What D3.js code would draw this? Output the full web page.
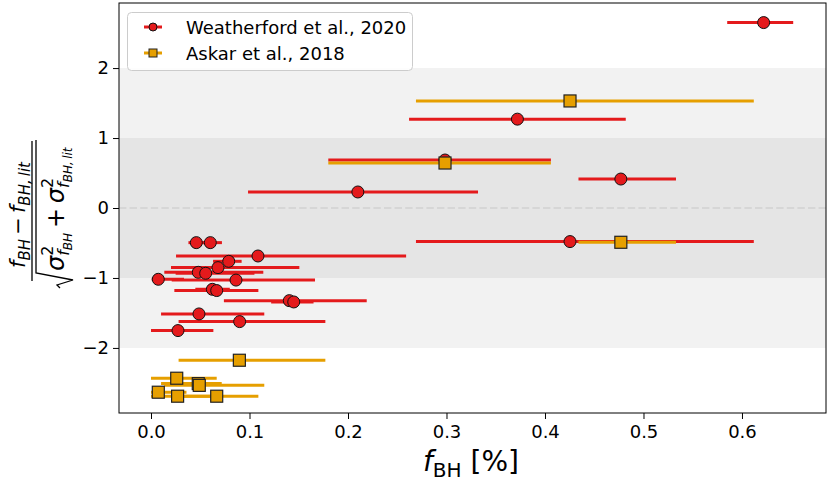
<!DOCTYPE html>
<html>
<head>
<meta charset="utf-8">
<script src="https://cdn.jsdelivr.net/npm/d3@7"></script>
<style>
  body { margin: 0; background: #fff; }
  text { font-family: "DejaVu Sans", sans-serif; white-space: pre; }
</style>
</head>
<body>
<svg id="chart" width="830" height="483"></svg>
<script>
// Weatherford et al., 2020 (red circles)
var wX  = [0.622, 0.372, 0.2985, 0.477, 0.210, 0.4254, 0.1086, 0.046, 0.0602, 0.0789, 0.068, 0.048, 0.0555, 0.0074, 0.0863, 0.0623, 0.0667, 0.1404, 0.1449, 0.0487, 0.090, 0.0274];
var wY  = [2.65, 1.27, 0.686, 0.414, 0.229, -0.48, -0.686, -0.495, -0.495, -0.762, -0.852, -0.919, -0.933, -1.019, -1.03, -1.162, -1.18, -1.324, -1.343, -1.514, -1.624, -1.752];
var wLo = [0.585, 0.262, 0.18, 0.434, 0.0985, 0.269, 0.0254, 0.038, 0.052, 0.063, 0.0203, 0.0135, 0.025, 0.0007, 0.021, 0.045, 0.0237, 0.074, 0.122, 0.0102, 0.028, 0.0];
var wHi = [0.652, 0.482, 0.406, 0.533, 0.332, 0.612, 0.259, 0.058, 0.072, 0.092, 0.1506, 0.114, 0.105, 0.0335, 0.1665, 0.08, 0.109, 0.219, 0.165, 0.115, 0.177, 0.0633];

// Askar et al., 2018 (orange squares)
var aX  = [0.4254, 0.2985, 0.477, 0.0897, 0.0261, 0.048, 0.049, 0.0074, 0.027, 0.0667];
var aY  = [1.53, 0.643, -0.49, -2.176, -2.433, -2.51, -2.535, -2.633, -2.69, -2.69];
var aLo = [0.269, 0.18, 0.434, 0.028, 0.0, 0.0102, 0.0135, 0.0, 0.0, 0.0237];
var aHi = [0.612, 0.406, 0.533, 0.177, 0.0667, 0.0718, 0.115, 0.036, 0.0633, 0.109];

var xTicks = [0, 0.1, 0.2, 0.3, 0.4, 0.5, 0.6];
var yTicks = [-2, -1, 0, 1, 2];
var legendLabels = ["Weatherford et al., 2020", "Askar et al., 2018"];

var red = "#e41a1c", orange = "#e69f00";

var svg = d3.select("#chart");
var pLeft = 119, pRight = 826, pTop = 3, pBottom = 413;

var x = d3.scaleLinear().domain([-0.0325, 0.6853]).range([pLeft, pRight]);
var y = d3.scaleLinear().domain([-2.93, 2.93]).range([pBottom, pTop]);

// shaded bands
svg.append("rect")
	.attr("x", pLeft).attr("width", pRight - pLeft)
	.attr("y", y(2)).attr("height", y(-2) - y(2))
	.attr("fill", "#f2f2f2");
svg.append("rect")
	.attr("x", pLeft).attr("width", pRight - pLeft)
	.attr("y", y(1)).attr("height", y(-1) - y(1))
	.attr("fill", "#e5e5e5");
svg.append("line")
	.attr("x1", pLeft).attr("x2", pRight)
	.attr("y1", y(0)).attr("y2", y(0))
	.attr("stroke", "#d6d6d6").attr("stroke-width", 2)
	.attr("stroke-dasharray", "7.4,3.2");

function makeRows(xs, ys, lo, hi) {
	return xs.map(function (d, i) { return { x: d, y: ys[i], lo: lo[i], hi: hi[i] }; });
}
var wRows = makeRows(wX, wY, wLo, wHi);
var aRows = makeRows(aX, aY, aLo, aHi);

// red series
svg.append("g").selectAll("line")
	.data(wRows).enter().append("line")
	.attr("x1", function (d) { return x(d.lo); })
	.attr("x2", function (d) { return x(d.hi); })
	.attr("y1", function (d) { return y(d.y); })
	.attr("y2", function (d) { return y(d.y); })
	.attr("stroke", red).attr("stroke-width", 3);
svg.append("g").selectAll("circle")
	.data(wRows).enter().append("circle")
	.attr("cx", function (d) { return x(d.x); })
	.attr("cy", function (d) { return y(d.y); })
	.attr("r", 6)
	.attr("fill", red).attr("stroke", "#111").attr("stroke-width", 1);

// orange series
svg.append("g").selectAll("line")
	.data(aRows).enter().append("line")
	.attr("x1", function (d) { return x(d.lo); })
	.attr("x2", function (d) { return x(d.hi); })
	.attr("y1", function (d) { return y(d.y); })
	.attr("y2", function (d) { return y(d.y); })
	.attr("stroke", orange).attr("stroke-width", 3);
svg.append("g").selectAll("rect")
	.data(aRows).enter().append("rect")
	.attr("x", function (d) { return x(d.x) - 6; })
	.attr("y", function (d) { return y(d.y) - 6; })
	.attr("width", 12).attr("height", 12)
	.attr("fill", orange).attr("stroke", "#222").attr("stroke-width", 1.2);

// axes
var xAxis = svg.append("g")
	.attr("transform", "translate(0," + pBottom + ")")
	.call(d3.axisBottom(x).tickValues(xTicks).tickFormat(d3.format(".1f")).tickSize(6).tickPadding(6).tickSizeOuter(0));
var yAxis = svg.append("g")
	.attr("transform", "translate(" + pLeft + ",0)")
	.call(d3.axisLeft(y).tickValues(yTicks).tickFormat(d3.format("d")).tickSize(6).tickPadding(4).tickSizeOuter(0));
[xAxis, yAxis].forEach(function (a) {
	a.select(".domain").remove();
	a.selectAll("text").attr("font-size", 18).attr("fill", "#000").attr("font-family", "DejaVu Sans");
	a.selectAll("line").attr("stroke", "#000");
});

svg.append("rect")
	.attr("x", pLeft).attr("y", pTop)
	.attr("width", pRight - pLeft).attr("height", pBottom - pTop)
	.attr("fill", "none").attr("stroke", "#000").attr("stroke-width", 1);

// x label
var xl = svg.append("text").attr("x", 471).attr("y", 471)
	.attr("text-anchor", "middle").attr("font-size", 28);
xl.append("tspan").attr("font-style", "italic").text("f");
xl.append("tspan").attr("font-size", 20).attr("dy", 6).text("BH");
xl.append("tspan").attr("dy", -6).text(" [%]");

// y label (fraction), drawn in rotated frame
function mathText(g, x0, y0, pieces) {
	var cx = x0, mark = x0, markEnd = x0;
	pieces.forEach(function (p) {
		if (p.mark) mark = cx;
		if (p.ret) { markEnd = cx; cx = mark; }
		var t = g.append("text").attr("x", cx).attr("y", y0 + (p.dy || 0))
			.attr("font-size", p.s).attr("font-style", p.i ? "italic" : "normal")
			.text(p.t);
		cx += t.node().getComputedTextLength();
		if (p.end) cx = Math.max(cx, markEnd);
	});
	return cx;
}

var yl = svg.append("g").attr("transform", "translate(32,208) rotate(-90)");
mathText(yl, -60, -7, [
	{ t: "f", s: 21, i: true },
	{ t: "BH", s: 15, i: true, dy: 5 },
	{ t: "\u2009\u2212\u2009", s: 21 },
	{ t: "f", s: 21, i: true },
	{ t: "BH,\u2009lit", s: 15, i: true, dy: 5 }
]);
yl.append("line").attr("x1", -73).attr("x2", 67).attr("y1", 0).attr("y2", 0)
	.attr("stroke", "#000").attr("stroke-width", 1.3);
yl.append("path").attr("d", "M-80,28 L-77,25 L-72,41 L-65,4 L68,4")
	.attr("fill", "none").attr("stroke", "#000").attr("stroke-width", 1.3);
mathText(yl, -63, 32, [
	{ t: "\u03c3", s: 24, i: true },
	{ t: "2", s: 16, dy: -11, mark: true },
	{ t: "f", s: 16, i: true, dy: 5, ret: true },
	{ t: "BH", s: 12, i: true, dy: 8, end: true },
	{ t: "\u2009+\u2009", s: 24 },
	{ t: "\u03c3", s: 24, i: true },
	{ t: "2", s: 16, dy: -11, mark: true },
	{ t: "f", s: 16, i: true, dy: 5, ret: true },
	{ t: "BH,\u2009lit", s: 12, i: true, dy: 8, end: true }
]);

// legend
var lg = svg.append("g");
lg.append("rect").attr("x", 127.5).attr("y", 12.5).attr("width", 285).attr("height", 58)
	.attr("rx", 4).attr("fill", "#fff").attr("fill-opacity", 0.8).attr("stroke", "#ccc");
var legendColors = [red, orange];
legendLabels.forEach(function (lab, i) {
	var ly = 27 + i * 26;
	lg.append("line").attr("x1", 144).attr("x2", 162).attr("y1", ly).attr("y2", ly)
		.attr("stroke", legendColors[i]).attr("stroke-width", 3);
	if (i === 0) {
		lg.append("circle").attr("cx", 153).attr("cy", ly).attr("r", 4)
			.attr("fill", red).attr("stroke", "#111").attr("stroke-width", 1);
	} else {
		lg.append("rect").attr("x", 149).attr("y", ly - 4).attr("width", 8).attr("height", 8)
			.attr("fill", orange).attr("stroke", "#222").attr("stroke-width", 1);
	}
	lg.append("text").attr("x", 186).attr("y", ly + 6.5).attr("font-size", 18).text(lab);
});
</script>
</body>
</html>
